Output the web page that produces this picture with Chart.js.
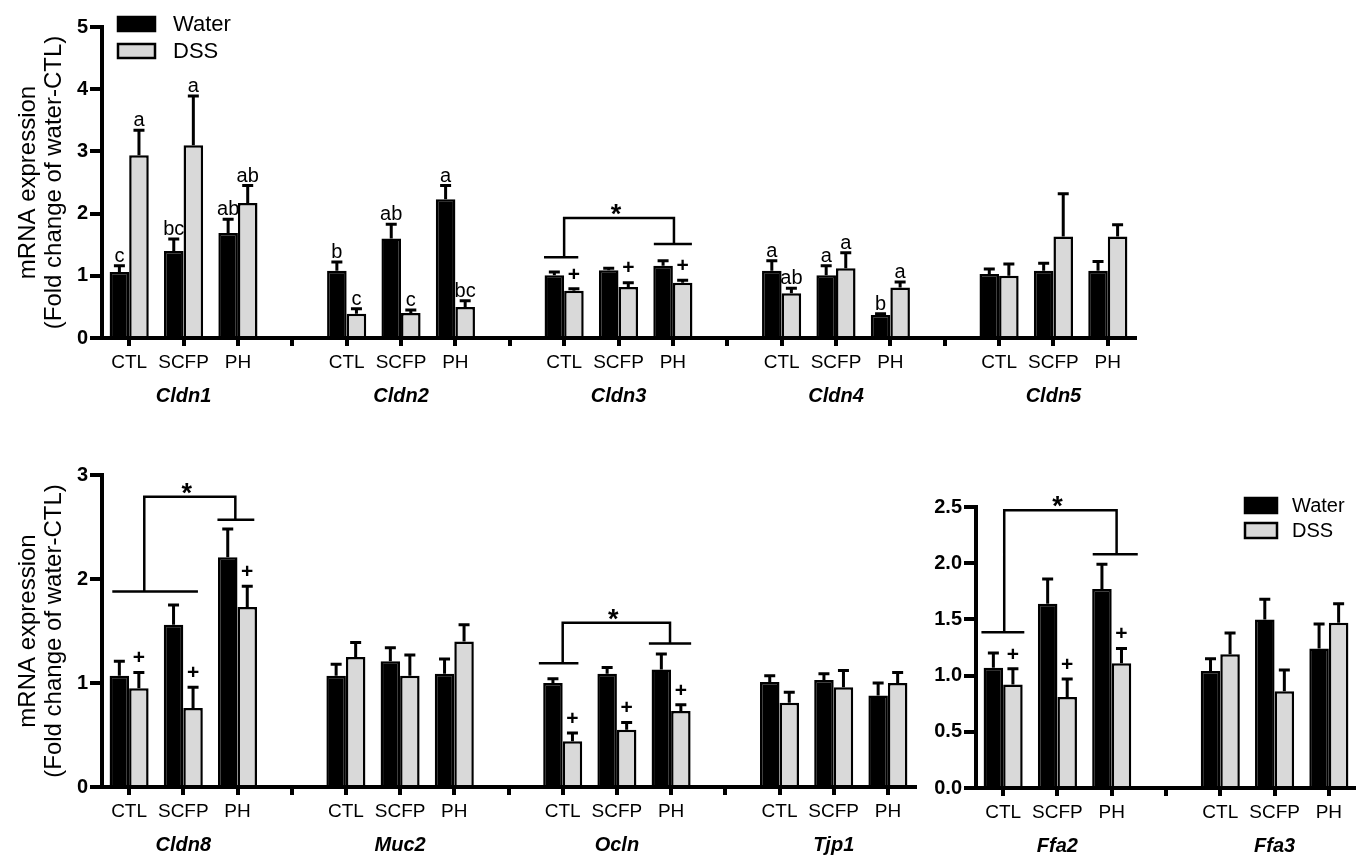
<!DOCTYPE html>
<html>
<head>
<meta charset="utf-8">
<script src="https://cdn.jsdelivr.net/npm/chart.js@4.4.1/dist/chart.umd.min.js"></script>
<style>
    body { margin: 0; background: #fff; }
    .panel { position: absolute; }
</style>
</head>
<body>
<canvas id="top-chart" class="panel" width="1140" height="420" style="left:0;top:0"></canvas>
<canvas id="left-chart" class="panel" width="920" height="422" style="left:0;top:440px"></canvas>
<canvas id="right-chart" class="panel" width="476" height="422" style="left:880px;top:440px"></canvas>
<script>
const treatments = ['CTL', 'SCFP', 'PH'];

// top row
const genesTop = ['Cldn1', 'Cldn2', 'Cldn3', 'Cldn4', 'Cldn5'];
const waterTop = [[1.06, 1.40, 1.69], [1.08, 1.60, 2.23], [1.01, 1.09, 1.16], [1.08, 1.01, 0.37], [1.03, 1.08, 1.08]];
const waterTopSem = [[0.10, 0.19, 0.22], [0.14, 0.23, 0.22], [0.05, 0.03, 0.08], [0.16, 0.15, 0.02], [0.08, 0.12, 0.15]];
const dssTop = [[2.94, 3.10, 2.17], [0.39, 0.40, 0.50], [0.76, 0.82, 0.89], [0.72, 1.12, 0.81], [1.00, 1.63, 1.63]];
const dssTopSem = [[0.40, 0.79, 0.28], [0.08, 0.05, 0.10], [0.03, 0.07, 0.04], [0.08, 0.25, 0.09], [0.19, 0.69, 0.19]];
const waterTopMarks = [['c', 'bc', 'ab'], ['b', 'ab', 'a'], ['', '', ''], ['a', 'a', 'b'], ['', '', '']];
const dssTopMarks = [['a', 'a', 'ab'], ['c', 'c', 'bc'], ['+', '+', '+'], ['ab', 'a', 'a'], ['', '', '']];

// bottom left
const genesLeft = ['Cldn8', 'Muc2', 'Ocln', 'Tjp1'];
const waterLeft = [[1.07, 1.56, 2.21], [1.07, 1.21, 1.09], [1.00, 1.09, 1.13], [1.01, 1.03, 0.88]];
const waterLeftSem = [[0.14, 0.19, 0.27], [0.11, 0.13, 0.14], [0.04, 0.06, 0.15], [0.06, 0.06, 0.12]];
const dssLeft = [[0.95, 0.76, 1.73], [1.25, 1.07, 1.40], [0.44, 0.55, 0.73], [0.81, 0.96, 1.00]];
const dssLeftSem = [[0.15, 0.20, 0.20], [0.14, 0.20, 0.16], [0.08, 0.07, 0.06], [0.10, 0.16, 0.10]];
const dssLeftMarks = [['+', '+', '+'], ['', '', ''], ['+', '+', '+'], ['', '', '']];

// bottom right
const genesRight = ['Ffa2', 'Ffa3'];
const waterRight = [[1.07, 1.64, 1.77], [1.04, 1.50, 1.24]];
const waterRightSem = [[0.13, 0.22, 0.22], [0.11, 0.18, 0.22]];
const dssRight = [[0.92, 0.81, 1.11], [1.19, 0.86, 1.47]];
const dssRightSem = [[0.14, 0.16, 0.13], [0.19, 0.19, 0.17]];
const dssRightMarks = [['+', '+', '+'], ['', '', '']];

// significance brackets: category index ranges and y levels
const bracketsTop = [{ low: [7.63, 8.26], lowY: 1.30, dropLow: 8, high: [9.65, 10.35], highY: 1.51, dropHigh: 10.02, peak: 1.93 }];
const bracketsLeft = [
    { low: [-0.31, 1.27], lowY: 1.88, dropLow: 0.28, high: [1.63, 2.31], highY: 2.57, dropHigh: 1.96, peak: 2.79 },
    { low: [7.56, 8.29], lowY: 1.19, dropLow: 8, high: [9.59, 10.37], highY: 1.38, dropHigh: 9.98, peak: 1.58 }
];
const bracketsRight = [{ low: [-0.4, 0.39], lowY: 1.385, dropLow: 0.02, high: [1.65, 2.48], highY: 2.08, dropHigh: 2.09, peak: 2.47 }];

const FONT = "'Liberation Sans', Arial, sans-serif";
Chart.defaults.font.family = FONT;
Chart.defaults.color = '#000';

function spread(rows, filler) {
    const out = [];
    rows.forEach((row, i) => {
        if (i > 0) out.push(filler);
        out.push(...row);
    });
    return out;
}

function blankMarks(genes) {
    return genes.map(() => ['', '', '']);
}

const annotate = {
    id: 'annotate',
    afterDatasetsDraw(chart) {
        const ctx = chart.ctx;
        const xs = chart.scales.x;
        const ys = chart.scales.y;
        ctx.save();
        ctx.strokeStyle = '#000';
        ctx.fillStyle = '#000';
        ctx.textAlign = 'center';
        chart.data.datasets.forEach((ds, di) => {
            const meta = chart.getDatasetMeta(di);
            meta.data.forEach((bar, i) => {
                const v = ds.data[i];
                if (v === null) return;
                const top = ys.getPixelForValue(v + ds.sem[i]);
                ctx.lineWidth = 3;
                ctx.beginPath();
                ctx.moveTo(bar.x, bar.y);
                ctx.lineTo(bar.x, top);
                ctx.moveTo(bar.x - 5.5, top);
                ctx.lineTo(bar.x + 5.5, top);
                ctx.stroke();
                const m = ds.marks[i];
                if (!m) return;
                if (m === '+') {
                    ctx.font = 'bold 21px ' + FONT;
                    ctx.textBaseline = 'middle';
                    ctx.fillText(m, bar.x, top - 14);
                } else {
                    ctx.font = '20px ' + FONT;
                    ctx.textBaseline = 'alphabetic';
                    ctx.fillText(m, bar.x, top - 4);
                }
            });
        });

        const brackets = chart.options.plugins.annotate.brackets || [];
        ctx.lineWidth = 2.5;
        brackets.forEach(b => {
            const peak = ys.getPixelForValue(b.peak);
            const lowY = ys.getPixelForValue(b.lowY);
            const highY = ys.getPixelForValue(b.highY);
            const xl = xs.getPixelForValue(b.dropLow);
            const xh = xs.getPixelForValue(b.dropHigh);
            ctx.beginPath();
            ctx.moveTo(xs.getPixelForValue(b.low[0]), lowY);
            ctx.lineTo(xs.getPixelForValue(b.low[1]), lowY);
            ctx.moveTo(xs.getPixelForValue(b.high[0]), highY);
            ctx.lineTo(xs.getPixelForValue(b.high[1]), highY);
            ctx.moveTo(xl, lowY);
            ctx.lineTo(xl, peak);
            ctx.lineTo(xh, peak);
            ctx.lineTo(xh, highY);
            ctx.stroke();
            ctx.font = 'bold 27px ' + FONT;
            ctx.textBaseline = 'alphabetic';
            ctx.fillText('*', (xl + xh) / 2 - 3, peak + 5);
        });
        ctx.restore();
    }
};

const boxLegend = {
    id: 'boxLegend',
    afterDraw(chart, args, opts) {
        if (!opts.show) return;
        const ctx = chart.ctx;
        ctx.save();
        chart.data.datasets.forEach((ds, i) => {
            const top = opts.top + i * opts.step;
            ctx.fillStyle = ds.backgroundColor;
            ctx.fillRect(opts.left, top, opts.boxWidth, opts.boxHeight);
            ctx.lineWidth = 2.5;
            ctx.strokeStyle = '#000';
            ctx.strokeRect(opts.left, top, opts.boxWidth, opts.boxHeight);
            ctx.fillStyle = '#000';
            ctx.font = opts.fontSize + 'px ' + FONT;
            ctx.textAlign = 'left';
            ctx.textBaseline = 'middle';
            ctx.fillText(ds.label, opts.left + opts.boxWidth + opts.gap, top + opts.boxHeight / 2 + 1);
        });
        ctx.restore();
    }
};

function makeChart(id, p) {
    const labels = spread(p.genes.map(() => treatments), '');
    const groupLabels = spread(p.genes.map(g => ['', g, '']), '');
    return new Chart(document.getElementById(id), {
        type: 'bar',
        data: {
            labels: labels,
            datasets: [{
                label: 'Water',
                data: spread(p.water, null),
                sem: spread(p.waterSem, null),
                marks: spread(p.waterMarks, ''),
                backgroundColor: '#000000',
                borderColor: '#000000',
                borderWidth: 2.5,
                categoryPercentage: 0.72,
                barPercentage: 1
            }, {
                label: 'DSS',
                data: spread(p.dss, null),
                sem: spread(p.dssSem, null),
                marks: spread(p.dssMarks, ''),
                backgroundColor: '#d9d9d9',
                borderColor: '#000000',
                borderWidth: 2.5,
                categoryPercentage: 0.72,
                barPercentage: 1
            }]
        },
        options: {
            responsive: false,
            animation: false,
            layout: { padding: p.padding },
            plugins: {
                legend: { display: false },
                tooltip: { enabled: false },
                annotate: { brackets: p.brackets },
                boxLegend: p.legend
            },
            scales: {
                x: {
                    type: 'category',
                    offset: true,
                    grid: { offset: false, drawOnChartArea: false, drawTicks: true, tickLength: 8, lineWidth: 4, color: '#000' },
                    border: { display: true, width: 4, color: '#000' },
                    ticks: { autoSkip: false, maxRotation: 0, padding: 5, font: { size: 19 } },
                    afterFit: s => { s.height = 33; }
                },
                x2: {
                    type: 'category',
                    labels: groupLabels,
                    position: 'bottom',
                    weight: 1,
                    offset: true,
                    grid: { display: false },
                    border: { display: false },
                    ticks: { autoSkip: false, maxRotation: 0, padding: p.groupPad, font: { size: 20, weight: 'bold', style: 'italic' } },
                    afterFit: s => { s.height = p.groupHeight; }
                },
                y: {
                    min: 0,
                    max: p.yMax,
                    ticks: { stepSize: p.yStep, padding: 2, font: { size: 20, weight: 'bold' }, callback: p.yFormat },
                    grid: { drawOnChartArea: false, tickLength: 12, lineWidth: 4, color: '#000' },
                    border: { width: 4, color: '#000' },
                    title: {
                        display: p.showTitle,
                        text: ['mRNA expression', '(Fold change of water-CTL)'],
                        font: { size: 24, lineHeight: 1.1 },
                        padding: { top: 15, bottom: 0 }
                    },
                    afterFit: s => { s.width = p.yWidth; }
                }
            }
        },
        plugins: [annotate, boxLegend]
    });
}

makeChart('top-chart', {
    genes: genesTop,
    water: waterTop, waterSem: waterTopSem, waterMarks: waterTopMarks,
    dss: dssTop, dssSem: dssTopSem, dssMarks: dssTopMarks,
    brackets: bracketsTop,
    padding: { top: 27, right: 5, left: 0, bottom: 0 },
    yMax: 5, yStep: 1, yFormat: v => v, yWidth: 102, showTitle: true,
    groupPad: 5, groupHeight: 49,
    legend: { show: true, left: 118, top: 17, boxWidth: 37, boxHeight: 14, step: 27, gap: 18, fontSize: 22 }
});

makeChart('left-chart', {
    genes: genesLeft,
    water: waterLeft, waterSem: waterLeftSem, waterMarks: blankMarks(genesLeft),
    dss: dssLeft, dssSem: dssLeftSem, dssMarks: dssLeftMarks,
    brackets: bracketsLeft,
    padding: { top: 35, right: 5, left: 0, bottom: 0 },
    yMax: 3, yStep: 1, yFormat: v => v, yWidth: 102, showTitle: true,
    groupPad: 5, groupHeight: 42,
    legend: { show: false }
});

makeChart('right-chart', {
    genes: genesRight,
    water: waterRight, waterSem: waterRightSem, waterMarks: blankMarks(genesRight),
    dss: dssRight, dssSem: dssRightSem, dssMarks: dssRightMarks,
    brackets: bracketsRight,
    padding: { top: 67, right: 0, left: 0, bottom: 0 },
    yMax: 2.5, yStep: 0.5, yFormat: v => v.toFixed(1), yWidth: 96, showTitle: false,
    groupPad: 5, groupHeight: 41,
    legend: { show: true, left: 365, top: 58, boxWidth: 32, boxHeight: 15, step: 25, gap: 15, fontSize: 20 }
});
</script>
</body>
</html>
